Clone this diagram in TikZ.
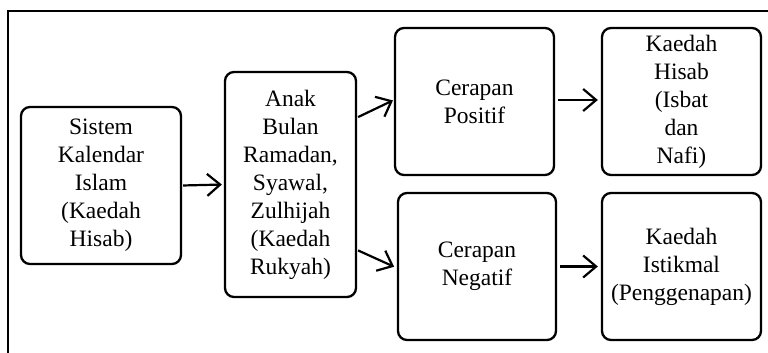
\documentclass[tikz,border=0pt]{standalone}
\usepackage{fontspec}
\setmainfont{Liberation Serif}
\usetikzlibrary{arrows.meta}
\begin{document}
\begin{tikzpicture}[x=1pt,y=-1pt,
  flowbox/.style={draw, line width=2.3pt, rounded corners=9pt, align=center,
    inner sep=0pt, font=\fontsize{23.5}{28}\selectfont},
  flowarrow/.style={line width=2.2pt, -{Straight Barb[length=13pt,width=22pt]}}]
\useasboundingbox (0,0) rectangle (768,353);
\draw[line width=1.6pt] (8,353) -- (8,11) -- (768,11);
\node[flowbox, minimum width=160pt, minimum height=157pt] (b1) at (101,185.5)
  {Sistem\\Kalendar\\Islam\\(Kaedah\\Hisab)};
\node[flowbox, minimum width=131pt, minimum height=225pt] (b2) at (290.5,184.5)
  {Anak\\Bulan\\Ramadan,\\Syawal,\\Zulhijah\\(Kaedah\\Rukyah)};
\node[flowbox, minimum width=159pt, minimum height=147pt] (b3) at (474.5,101.5)
  {Cerapan\\Positif};
\node[flowbox, minimum width=159pt, minimum height=147pt] (b4) at (681.5,101.5)
  {Kaedah\\Hisab\\(Isbat\\dan\\Nafi)};
\node[flowbox, minimum width=158pt, minimum height=147pt] (b5) at (477,266.5)
  {Cerapan\\Negatif};
\node[flowbox, minimum width=159pt, minimum height=147pt] (b6) at (681.5,266.5)
  {Kaedah\\Istikmal\\(Penggenapan)};
\draw[flowarrow, shorten <=1pt, shorten >=2pt] (b1.east) -- (b2.west);
\draw[flowarrow, shorten <=1pt, shorten >=1pt] ([yshift=67pt]b2.east) -- ([yshift=1.5pt]b3.west);
\draw[flowarrow, shorten <=1pt, shorten >=3pt] ([yshift=-65.5pt]b2.east) -- ([yshift=-1.5pt]b5.west);
\draw[flowarrow, shorten <=3pt, shorten >=3pt] ([yshift=1.5pt]b3.east) -- ([yshift=1.5pt]b4.west);
\draw[flowarrow, shorten <=3pt, shorten >=3pt] (b5.east) -- (b6.west);
\end{tikzpicture}
\end{document}
